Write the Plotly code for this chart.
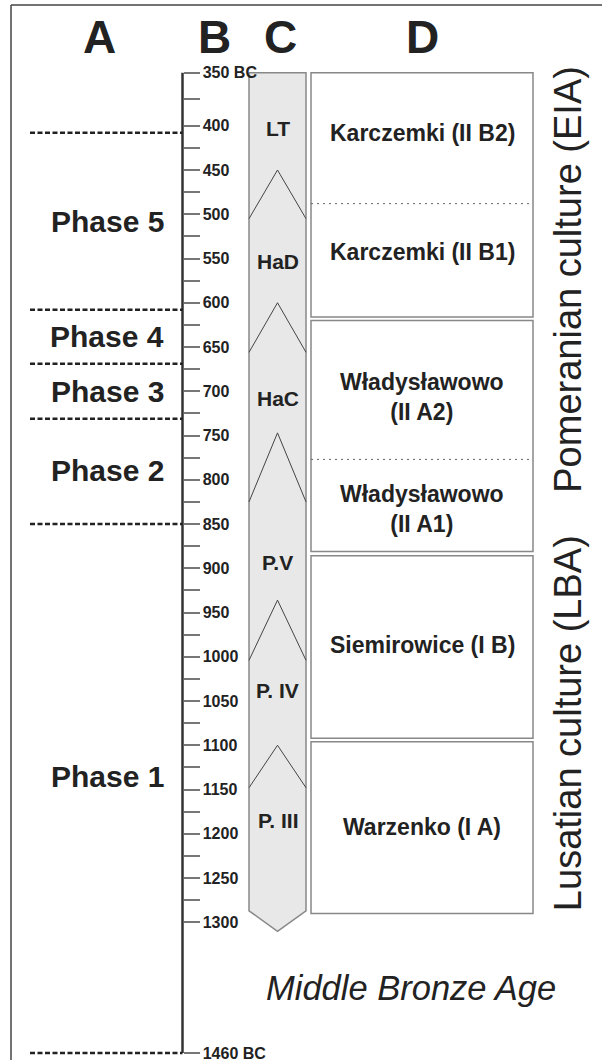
import plotly.graph_objects as go

# ---------------- data ----------------
# B: time axis (years BC)
major_years = [350, 400, 450, 500, 550, 600, 650, 700, 750, 800, 850, 900, 950,
               1000, 1050, 1100, 1150, 1200, 1250, 1300, 1460]
major_labels = ["350 BC", "400", "450", "500", "550", "600", "650", "700", "750",
                "800", "850", "900", "950", "1000", "1050", "1100", "1150", "1200",
                "1250", "1300", "1460 BC"]
minor_years = [375, 425, 475, 525, 575, 625, 675, 725, 775, 825, 875, 925, 975,
               1025, 1075, 1125, 1175, 1225, 1275]

# A: phases
phase_names = ["Phase 5", "Phase 4", "Phase 3", "Phase 2", "Phase 1"]
phase_bounds = [408, 608, 669, 731, 850, 1460]
phase_label_years = [508, 638, 700, 790, 1135]

# C: chronological periods
c_labels = ["LT", "HaD", "HaC", "P.V", "P. IV", "P. III"]
c_label_years = [403, 553, 708, 893, 1038, 1185]
c_apex_years = [450, 600, 747, 936, 1100]
c_base_years = [505, 656, 825, 1004, 1148]
c_top_year = 350
c_bottom_year = 1287
c_tip_year = 1311

# D: cultural groups
d_labels = ["Karczemki (II B2)", "Karczemki (II B1)", "Władysławowo<br>(II A2)",
            "Władysławowo<br>(II A1)", "Siemirowice (I B)", "Warzenko (I A)"]
d_start = [350, 488, 620, 777, 886, 1096]
d_end = [488, 616, 777, 881, 1092, 1290]
d_label_years = [408, 543, 706, 833, 987, 1192]

# culture names (right side)
culture_names = ["Pomeranian culture (EIA)", "Lusatian culture (LBA)"]
culture_center_years = [574, 1075]
bottom_label = "Middle Bronze Age"
headers = ["A", "B", "C", "D"]


# original axis is stretched above 400 BC and compressed below 1300 BC
def axis_pos(year):
    if year < 400:
        return 400 - (400 - year) * 1.196
    if year > 1300:
        return 1300 + (year - 1300) * 0.923
    return year


FONT = "Liberation Sans, Arial, sans-serif"
TXT = "#222222"
W, H = 602, 1062
AX_X = 182.5
C_L, C_R = 249, 306
C_MID = (C_L + C_R) / 2
D_L, D_R = 311, 533


def ann(**kw):
    base = dict(showarrow=False, xanchor="center", yanchor="middle")
    base.update(kw)
    return base


fig = go.Figure()
# invisible trace to establish axes
fig.add_trace(go.Scatter(x=[0, W], y=[axis_pos(400), axis_pos(1300)], mode="markers",
                         marker=dict(opacity=0), hoverinfo="skip", showlegend=False))

shapes = []
annotations = []

# frame
shapes.append(dict(type="line", xref="x", yref="paper", x0=11, x1=W, y0=1 - 5 / H, y1=1 - 5 / H,
                   line=dict(color="#444", width=1.5)))
shapes.append(dict(type="line", xref="x", yref="paper", x0=11, x1=11, y0=0, y1=1 - 5 / H,
                   line=dict(color="#444", width=1.5)))

# headers
for h, hx in zip(headers, [99, 214.5, 280, 422]):
    annotations.append(ann(x=hx, y=1 - 37 / H, xref="x", yref="paper", text="<b>%s</b>" % h,
                           font=dict(family=FONT, size=46, color=TXT)))

# axis line B
shapes.append(dict(type="line", xref="x", yref="y", x0=AX_X, x1=AX_X,
                   y0=axis_pos(major_years[0]), y1=axis_pos(major_years[-1]),
                   line=dict(color="#333", width=2.5)))

# phase dashed lines and labels
for b in phase_bounds:
    shapes.append(dict(type="line", xref="x", yref="y", x0=30, x1=AX_X, y0=axis_pos(b), y1=axis_pos(b),
                       line=dict(color="#222", width=2.5, dash="5px,2.5px")))
for name, yy in zip(phase_names, phase_label_years):
    annotations.append(ann(x=166, y=axis_pos(yy), xref="x", yref="y", xanchor="right",
                           text="<b>%s</b>" % name, font=dict(family=FONT, size=30, color=TXT)))

# column C
top = axis_pos(c_top_year)
bot = axis_pos(c_bottom_year)
tip = axis_pos(c_tip_year)
shapes.append(dict(type="path", xref="x", yref="y",
                   path=f"M {C_L},{top} L {C_R},{top} L {C_R},{bot} L {C_MID},{tip} L {C_L},{bot} Z",
                   fillcolor="#e8e8e8", line=dict(color="#888", width=1.5), layer="below"))
for a, b in zip(c_apex_years, c_base_years):
    shapes.append(dict(type="path", xref="x", yref="y",
                       path=f"M {C_L},{axis_pos(b)} L {C_MID},{axis_pos(a)} L {C_R},{axis_pos(b)}",
                       line=dict(color="#444", width=1)))
for lab, yy in zip(c_labels, c_label_years):
    annotations.append(ann(x=C_MID, y=axis_pos(yy), xref="x", yref="y", text="<b>%s</b>" % lab,
                           font=dict(family=FONT, size=21, color=TXT)))

# column D: merge contiguous sub-periods into boxes, dotted internal boundaries
groups = []
for i in range(len(d_start)):
    if groups and d_start[i] == groups[-1][1]:
        groups[-1][1] = d_end[i]
        shapes.append(dict(type="line", xref="x", yref="y", x0=D_L, x1=D_R,
                           y0=axis_pos(d_start[i]), y1=axis_pos(d_start[i]),
                           line=dict(color="#666", width=1, dash="2px,4px")))
    else:
        groups.append([d_start[i], d_end[i]])
for s, e in groups:
    shapes.append(dict(type="rect", xref="x", yref="y", x0=D_L, x1=D_R,
                       y0=axis_pos(s), y1=axis_pos(e), fillcolor="white",
                       line=dict(color="#888", width=1.5), layer="below"))
for lab, yy in zip(d_labels, d_label_years):
    annotations.append(ann(x=(D_L + D_R) / 2, y=axis_pos(yy), xref="x", yref="y",
                           text="<b>%s</b>" % lab, font=dict(family=FONT, size=23, color=TXT)))

# culture names (rotated)
for name, yy in zip(culture_names, culture_center_years):
    annotations.append(ann(x=568, y=axis_pos(yy), xref="x", yref="y", text=name, textangle=-90,
                           font=dict(family=FONT, size=38, color=TXT)))

annotations.append(ann(x=411, y=1 - 990 / H, xref="x", yref="paper",
                       text="<i>%s</i>" % bottom_label, font=dict(family=FONT, size=34.5, color=TXT)))

# y range so that 400 BC sits at 126 px and 1300 BC at 924 px
px_per_year = (924 - 126) / 900
y_top = 400 - 126 / px_per_year
y_bot = 400 + (H - 126) / px_per_year

fig.update_layout(
    width=W, height=H, margin=dict(l=0, r=0, t=0, b=0),
    paper_bgcolor="white", plot_bgcolor="white", showlegend=False,
    shapes=shapes, annotations=annotations,
    xaxis=dict(range=[0, W], visible=False, fixedrange=True),
    yaxis=dict(range=[y_bot, y_top], anchor="free", position=AX_X / W, side="right",
               tickmode="array", tickvals=[axis_pos(v) for v in major_years], ticktext=major_labels,
               ticks="outside", ticklen=16, tickwidth=1.5, tickcolor="#777",
               ticklabeloverflow="allow",
               showline=False, showgrid=False, zeroline=False, fixedrange=True,
               tickfont=dict(family=FONT, size=16, color=TXT, weight="bold"),
               minor=dict(tickmode="array", tickvals=[axis_pos(v) for v in minor_years],
                          ticks="outside", ticklen=16, tickwidth=1.5, tickcolor="#777", showgrid=False)),
)

fig.write_html("out.html", config={"displayModeBar": False},
               post_script="document.body.style.margin='0';document.body.style.overflow='hidden';")
